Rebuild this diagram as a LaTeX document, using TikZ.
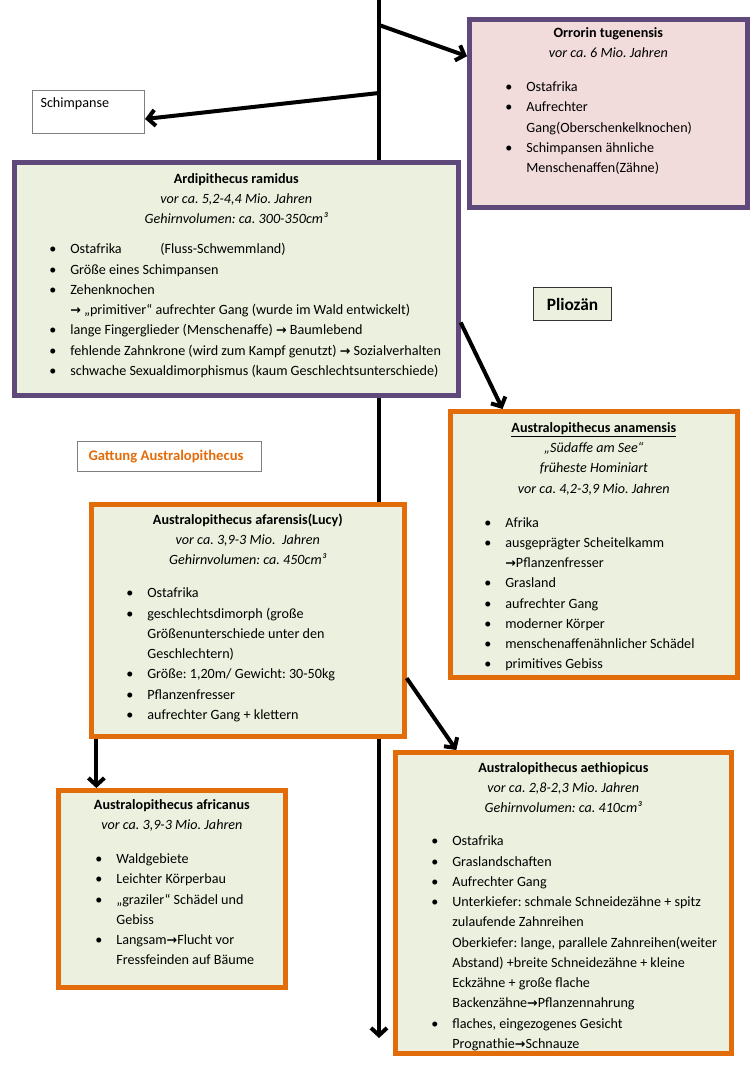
\documentclass[tikz,border=0pt]{standalone}
\usepackage{fontspec}
\setmainfont{Carlito}
\newfontfamily\dv{DejaVu Sans}
\usetikzlibrary{arrows.meta}
\definecolor{purp}{HTML}{5F497A}
\definecolor{pinkf}{HTML}{F2DCDB}
\definecolor{greenf}{HTML}{EBF1DE}
\definecolor{orng}{HTML}{E36C0A}
\definecolor{thingray}{HTML}{7F7F7F}
\frenchspacing
\newdimen\upx \upx=0.75pt
\newdimen\tx
\newcommand\st{\rule{0pt}{10pt}}
\newcommand\bxt[4]{\parbox[t][#2\upx][t]{#1\upx}{\parindent=0pt\parskip=0pt\frenchspacing\vspace*{#3\upx}#4}}
\newcommand\hd[1]{{\centering\st #1\par}}
\newcommand\itm[1]{{\leftskip=\tx\rightskip=0pt plus 1fil\noindent\llap{\textbullet\hspace*{14\upx}}#1\par}}
\newcommand\gap[1]{\vspace{#1\upx}}
\newcommand\ar{{\dv\bfseries\fontsize{9.5pt}{9.5pt}\selectfont →}}
\begin{document}
\begin{tikzpicture}[x=0.75pt,y=-0.75pt,
  font=\fontsize{10.6pt}{15.2pt}\selectfont,
  purplebox/.style={draw=purp, line width=3.5pt, inner sep=0pt, anchor=north west},
  orangebox/.style={draw=orng, line width=3.5pt, inner sep=0pt, anchor=north west, fill=greenf},
  thinbox/.style={draw=thingray, line width=0.8pt, inner sep=0pt, anchor=north west, fill=white},
  mainline/.style={line width=3pt, -{Straight Barb[length=5.5pt,width=12pt]}},
  conn/.style={line width=3pt, -{Straight Barb[length=5.5pt,width=12pt]}}]
\useasboundingbox (0,0) rectangle (753,1072);
\coordinate (top) at (379,0);
\coordinate (j1) at (379,25);
\coordinate (j2) at (379,93);
\coordinate (bot) at (379,1038);
\draw[mainline] (top) -- (bot);

% Orrorin
\node[purplebox, fill=pinkf] (orr) at (467,17) {\bxt{278}{188}{4.67}{\tx=57\upx
  \hd{\textbf{Orrorin tugenensis}\\ \textit{vor ca. 6 Mio. Jahren}}
  \gap{13.7}
  \itm{Ostafrika}
  \itm{Aufrechter\newline Gang(Oberschenkelknochen)}
  \itm{Schimpansen ähnliche\newline Menschenaffen(Zähne)}}};

% Schimpanse
\node[thinbox] (sch) at (32,90) {\bxt{112}{43}{3.67}{\hspace*{8\upx}\st Schimpanse}};

% Ardipithecus
\node[purplebox, fill=greenf] (ardi) at (12,160) {\bxt{444}{233}{7.67}{\tx=56\upx
  \hd{\textbf{Ardipithecus ramidus}\\ \textit{vor ca. 5,2-4,4 Mio. Jahren}\\ \textit{Gehirnvolumen: ca. 300-350cm³}}
  \gap{9.7}
  \itm{\makebox[90\upx][l]{Ostafrika}(Fluss-Schwemmland)}
  \itm{Größe eines Schimpansen}
  \itm{Zehenknochen\newline \ar{} „primitiver“ aufrechter Gang (wurde im Wald entwickelt)}
  \itm{lange Fingerglieder (Menschenaffe) \ar{} Baumlebend}
  \itm{fehlende Zahnkrone (wird zum Kampf genutzt) \ar{} Sozialverhalten}
  \itm{schwache Sexualdimorphismus (kaum Geschlechtsunterschiede)}}};

% Pliozaen
\node[thinbox, draw=black!80, fill=greenf, minimum width=58.5pt, minimum height=24.75pt] (plio) at (533,287) {\fontsize{13pt}{13pt}\selectfont\bfseries Pliozän};

% Anamensis
\node[orangebox] (anam) at (448,409) {\bxt{287}{266}{7.67}{\tx=55\upx
  \hd{\underline{\textbf{Australopithecus anamensis}}\\ \textit{„Südaffe am See“}\\ \textit{früheste Hominiart}\\ \textit{vor ca. 4,2-3,9 Mio. Jahren}}
  \gap{13.7}
  \itm{Afrika}
  \itm{ausgeprägter Scheitelkamm\newline \ar Pflanzenfresser}
  \itm{Grasland}
  \itm{aufrechter Gang}
  \itm{moderner Körper}
  \itm{menschenaffenähnlicher Schädel}
  \itm{primitives Gebiss}}};

% Gattung
\node[thinbox] (gatt) at (77,441) {\bxt{184}{30}{5.67}{\hspace*{11\upx}\st\textcolor{orng}{\fontsize{11pt}{15pt}\selectfont\textbf{Gattung Australopithecus}}}};

% Afarensis
\node[orangebox] (afar) at (89,502) {\bxt{313}{232}{6.67}{\tx=56\upx
  \hd{\textbf{Australopithecus afarensis(Lucy)}\\ \textit{vor ca. 3,9-3 Mio.\ \ Jahren}\\ \textit{Gehirnvolumen: ca. 450cm³}}
  \gap{12.7}
  \itm{Ostafrika}
  \itm{geschlechtsdimorph (große\newline Größenunterschiede unter den\newline Geschlechtern)}
  \itm{Größe: 1,20m/ Gewicht: 30-50kg}
  \itm{Pflanzenfresser}
  \itm{aufrechter Gang + klettern}}};

% Africanus
\node[orangebox] (afric) at (56,788) {\bxt{227}{197}{5.67}{\tx=58\upx
  \hd{\textbf{Australopithecus africanus}\\ \textit{vor ca. 3,9-3 Mio. Jahren}}
  \gap{13.7}
  \itm{Waldgebiete}
  \itm{Leichter Körperbau}
  \itm{„graziler“ Schädel und\newline Gebiss}
  \itm{Langsam\ar Flucht vor\newline Fressfeinden auf Bäume}}};

% Aethiopicus
\node[orangebox] (aeth) at (393,750) {\bxt{336}{301}{6.67}{\tx=57\upx
  \hd{\textbf{Australopithecus aethiopicus}\\ \textit{vor ca. 2,8-2,3 Mio. Jahren}\\ \textit{Gehirnvolumen: ca. 410cm³}}
  \gap{12.7}
  \itm{Ostafrika}
  \itm{Graslandschaften}
  \itm{Aufrechter Gang}
  \itm{Unterkiefer: schmale Schneidezähne + spitz\newline zulaufende Zahnreihen\newline Oberkiefer: lange, parallele Zahnreihen(weiter\newline Abstand) +breite Schneidezähne + kleine\newline Eckzähne + große flache\newline Backenzähne\ar Pflanzennahrung}
  \itm{flaches, eingezogenes Gesicht\newline Prognathie\ar Schnauze}}};

% connectors
\draw[conn] (j1) -- (orr.158);
\draw[conn] (j2) -- (sch.-7);
\draw[conn] (ardi.-11) -- (anam.124);
\draw[conn] (afar.-142) -- (afar.-142 |- afric.north);
\draw[conn] (afar.-20.7) -- (aeth.125.9);
\end{tikzpicture}
\end{document}
